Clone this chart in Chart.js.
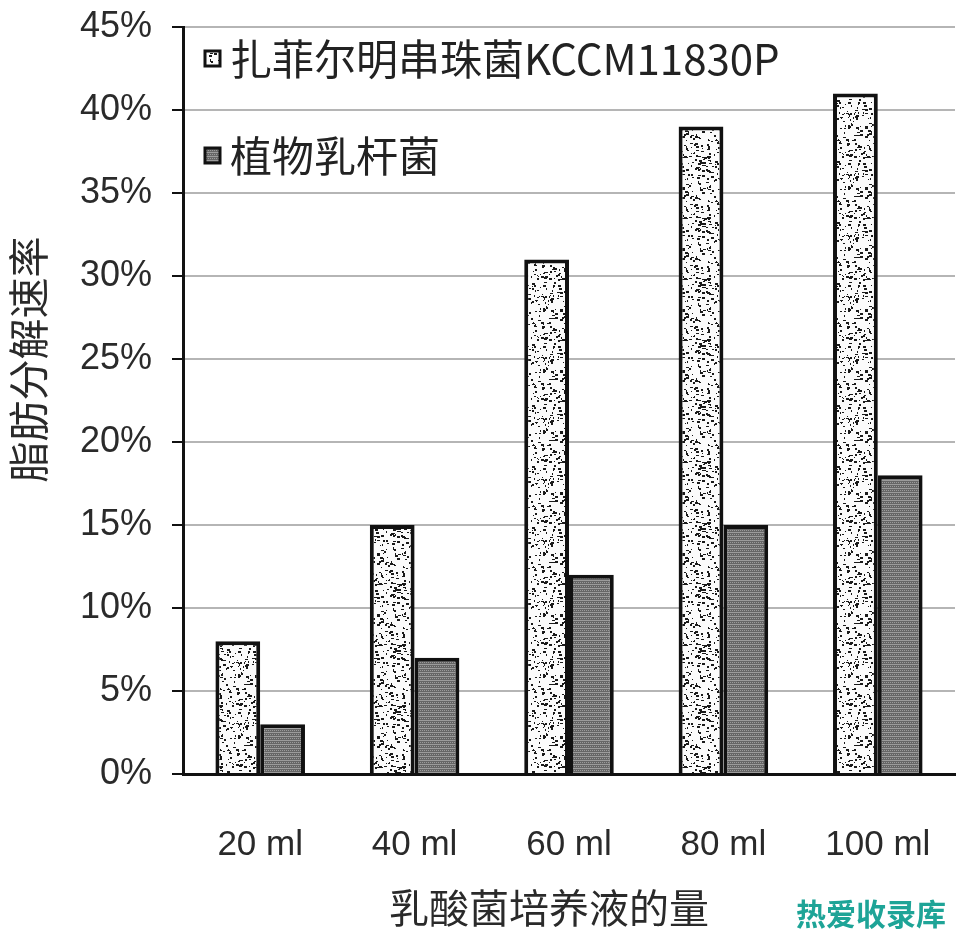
<!DOCTYPE html>
<html>
<head>
<meta charset="utf-8">
<script src="https://cdn.jsdelivr.net/npm/chart.js@4.4.0/dist/chart.umd.min.js"></script>
<style>
  html, body { margin: 0; padding: 0; background: #fff; }
  #wrap { width: 972px; height: 936px; }
</style>
</head>
<body>
<div id="wrap"><canvas id="fatChart" width="972" height="936"></canvas></div>
<script>
// 乳酸菌培养液的量
const categories = ['20 ml', '40 ml', '60 ml', '80 ml', '100 ml'];
const seriesNames = ['扎菲尔明串珠菌KCCM11830P', '植物乳杆菌'];
// 脂肪分解速率 (%)
const leuconostocValues = [8, 15, 31, 39, 41];
const plantarumValues = [3, 7, 12, 15, 18];
const yTicks = [0, 5, 10, 15, 20, 25, 30, 35, 40, 45];

const cjkFont = '"Noto Sans CJK SC", "Noto Sans", sans-serif';
const latinFont = '"Liberation Sans", Arial, sans-serif';

// speckled white fill (texture only, fixed hash so it looks the same each run)
function speckPattern() {
  const size = 61;
  const c = document.createElement('canvas');
  c.width = size; c.height = size;
  const g = c.getContext('2d');
  g.fillStyle = '#fbfbfb';
  g.fillRect(0, 0, size, size);
  g.fillStyle = '#1a1a1a';
  for (let i = 0; i < 230; i++) {
    const h = Math.abs(Math.sin(i * 12.9898 + 78.233) * 43758.5453);
    const h2 = Math.abs(Math.sin(i * 39.3468 + 11.135) * 24634.6345);
    const x = Math.floor((h % 1) * size);
    const y = Math.floor((h2 % 1) * size);
    const w = 1 + Math.floor((h * 7) % 3);
    g.fillRect(x, y, w, 1 + (i % 2));
  }
  return g.createPattern(c, 'repeat');
}

// dark grey mesh fill
function meshPattern() {
  const c = document.createElement('canvas');
  c.width = 4; c.height = 4;
  const g = c.getContext('2d');
  g.fillStyle = '#666';
  g.fillRect(0, 0, 4, 4);
  g.fillStyle = '#9c9c9c';
  g.fillRect(0, 0, 4, 1);
  g.fillRect(0, 2, 1, 1);
  g.fillRect(2, 2, 1, 1);
  return g.createPattern(c, 'repeat');
}

const legendInside = {
  id: 'legendInside',
  afterDraw(chart) {
    const ctx = chart.ctx;
    const rows = [59, 156];
    ctx.save();
    chart.data.datasets.forEach((ds, i) => {
      const y = rows[i];
      ctx.fillStyle = ds.backgroundColor;
      ctx.fillRect(205, y - 8, 15, 15);
      ctx.lineWidth = 3;
      ctx.strokeStyle = '#111';
      ctx.strokeRect(205, y - 8, 15, 15);
      ctx.fillStyle = '#222';
      ctx.font = '42px ' + cjkFont;
      ctx.textBaseline = 'middle';
      ctx.fillText(ds.label, 230, y);
    });
    ctx.restore();
  }
};

const watermark = {
  id: 'watermark',
  afterDraw(chart) {
    const ctx = chart.ctx;
    ctx.save();
    ctx.font = 'bold 30px ' + cjkFont;
    ctx.fillStyle = '#1ea497';
    ctx.textBaseline = 'middle';
    ctx.fillText('热爱收录库', 796, 914);
    ctx.restore();
  }
};

const ctx = document.getElementById('fatChart').getContext('2d');
new Chart(ctx, {
  type: 'bar',
  data: {
    labels: categories,
    datasets: [
      {
        label: seriesNames[0],
        data: leuconostocValues,
        backgroundColor: speckPattern(),
        borderColor: '#111',
        borderWidth: 4,
        categoryPercentage: 0.58,
        barPercentage: 1.0
      },
      {
        label: seriesNames[1],
        data: plantarumValues,
        backgroundColor: meshPattern(),
        borderColor: '#111',
        borderWidth: 4,
        categoryPercentage: 0.58,
        barPercentage: 1.0
      }
    ]
  },
  options: {
    responsive: false,
    animation: false,
    layout: { padding: { top: 27, right: 17, left: 0, bottom: 0 } },
    scales: {
      x: {
        grid: { display: false, drawTicks: false },
        border: { color: '#111', width: 3 },
        ticks: {
          color: '#2a2a2a',
          padding: 50,
          font: { family: latinFont, size: 35 }
        },
        title: {
          display: true,
          text: '乳酸菌培养液的量\u3000',
          color: '#2a2a2a',
          font: { family: cjkFont, size: 40 },
          padding: { top: 16 }
        },
        afterFit(scale) {
          scale.height = 162;
          scale.paddingLeft = 0;
          scale.paddingRight = 0;
        }
      },
      y: {
        min: 0,
        max: 45,
        afterBuildTicks(scale) {
          scale.ticks = yTicks.map(v => ({ value: v }));
        },
        grid: {
          color: '#b5b5b5',
          lineWidth: 2,
          tickColor: '#111',
          tickLength: 11
        },
        border: { color: '#111', width: 3 },
        ticks: {
          color: '#2a2a2a',
          padding: 20,
          font: { family: latinFont, size: 36 },
          callback: v => v + '%'
        },
        title: {
          display: true,
          text: '\u3000\u3000脂肪分解速率',
          color: '#2a2a2a',
          font: { family: cjkFont, size: 41 },
          padding: { bottom: 0 }
        },
        afterFit(scale) {
          scale.width = 183;
          scale.paddingTop = 0;
          scale.paddingBottom = 0;
        }
      }
    },
    plugins: {
      legend: { display: false },
      tooltip: { enabled: false }
    }
  },
  plugins: [legendInside, watermark]
});
</script>
</body>
</html>
